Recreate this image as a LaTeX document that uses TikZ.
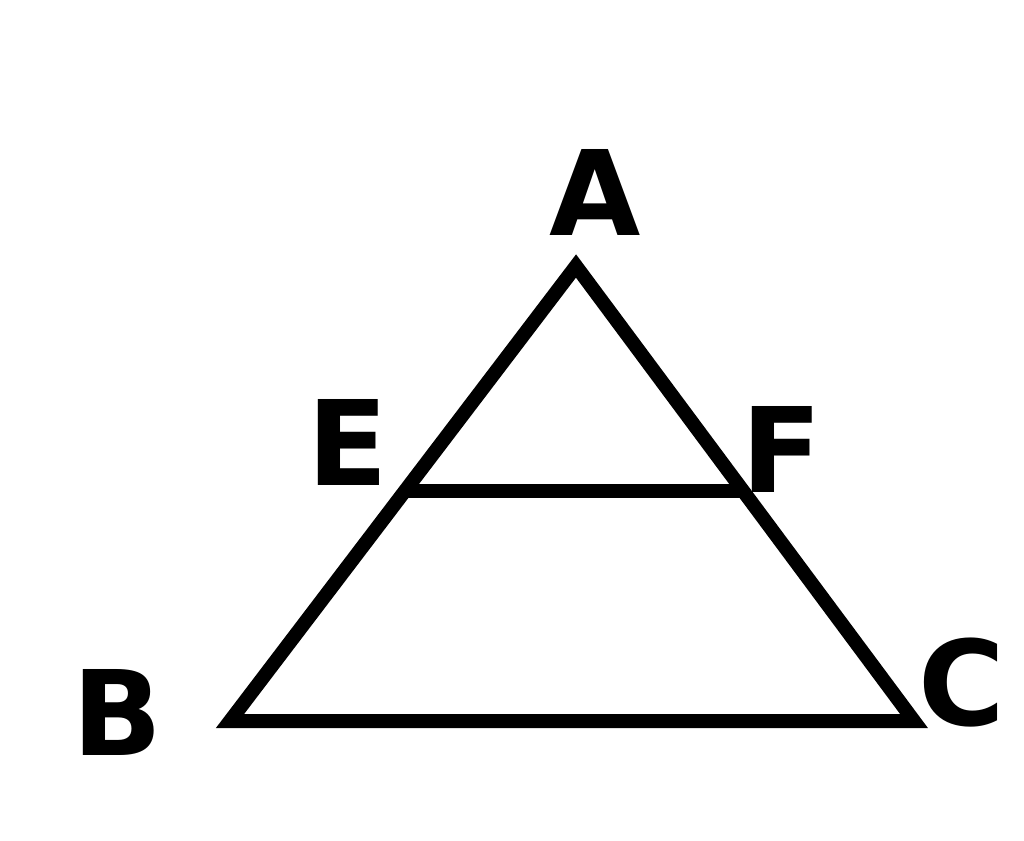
\documentclass[tikz,border=0pt]{standalone}
\usepackage{fontspec}
\setmainfont{DejaVu Sans}
\usetikzlibrary{calc}
\begin{document}
\begin{tikzpicture}[x=1pt,y=-1pt,
  edge/.style={line width=14pt,line join=miter,black},
  lbl/.style={font=\fontsize{118}{118}\selectfont\bfseries,inner sep=0pt,anchor=center}]
\useasboundingbox[fill=white] (0,0) rectangle (1024,840);
\coordinate (A) at (576,266);
\coordinate (B) at (230,721);
\coordinate (C) at (914,721);
\coordinate (E) at ($(A)!0.494!(B)$);
\coordinate (F) at ($(A)!0.494!(C)$);
\draw[edge] (A) -- (B) -- (C) -- cycle;
\draw[edge] (E) -- (F);
\node[lbl] (lA) at (595,192) {A};
\node[lbl] (lE) at (348,442) {E};
\node[lbl] (lF) at (782,449) {F};
\node[lbl] (lB) at (117,712) {B};
\node[lbl] (lC) at (962,683) {C};
\end{tikzpicture}
\end{document}
